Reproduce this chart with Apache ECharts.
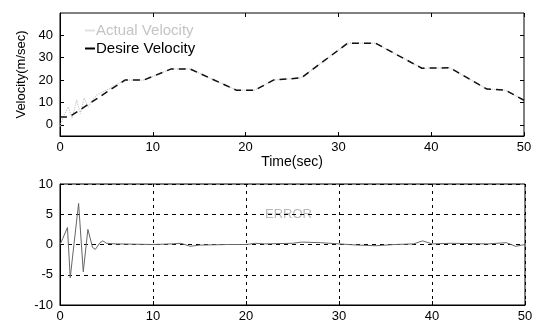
<!DOCTYPE html>
<html>
<head>
<meta charset="utf-8">
<script src="https://cdn.jsdelivr.net/npm/echarts@6/dist/echarts.min.js"></script>
<style>
  html, body { margin: 0; padding: 0; background: #fff; }
  #m1 { width: 537px; height: 323px; }
</style>
</head>
<body>
<div id="m1"></div>
<script>
// 期望速度 (时间, 速度)
var desireTime = [0, 1, 7, 9, 12, 14, 19, 21, 23, 26, 31, 34, 39, 42, 46, 48, 50];
var desireVel  = [3.5, 3.5, 20, 20, 25, 25, 15.5, 15.5, 20, 21, 36.5, 36.5, 25.3, 25.5, 16, 15.5, 11];

// 实际速度
var actualTime = [0, 0.4, 0.9, 1.3, 1.8, 2.2, 2.6, 3.0, 3.5, 4.0, 5, 7, 9, 12, 14, 19, 21, 23, 26, 31, 34, 39, 42, 46, 48, 50];
var actualVel  = [-0.7, 4, 8, 3, 11, 5, 12, 8, 11, 13.5, 15.5, 20, 20, 25, 25, 15.5, 15.5, 20, 21, 36.5, 36.5, 25.3, 25.5, 16, 15.5, 11];

// 误差
var errTime = [0, 0.3, 0.8, 1.1, 1.5, 2.0, 2.5, 3.0, 3.5, 3.8, 4.3, 4.6, 5, 6, 8, 10, 12, 13, 14, 15, 18, 20, 21, 22, 25, 26, 28, 30, 32, 34, 36, 38, 39, 40, 42, 46, 48, 49, 50];
var errVal  = [0, 1, 2.8, -5.5, 0, 6.8, -4.5, 2.5, -0.5, -0.8, 0.3, 0.6, 0.2, 0.1, 0.05, 0, 0.1, 0.2, -0.3, -0.1, 0, 0, 0.2, 0.1, 0.2, 0.4, 0.3, 0.1, -0.1, -0.2, 0, 0.1, 0.6, 0.1, 0.2, 0.1, 0.3, -0.3, 0];

var topTicks = [0, 10, 20, 30, 40];

function pairs(xs, ys){
    var out = [];
    for (var i = 0; i < xs.length; i++) out.push([xs[i], ys[i]]);
    return out;
}

var font = 'Liberation Sans, Arial, sans-serif';
var myChart = echarts.init(document.getElementById('m1'));

var option = {
    animation: false,
    backgroundColor: '#fff',
    textStyle: { fontFamily: font },
    grid: [
        { left: 60, right: 13, top: 13, height: 123, show: true, borderColor: '#000', borderWidth: 1 },
        { left: 60, right: 12, top: 184, height: 122, show: true, borderColor: '#000', borderWidth: 1 }
    ],
    legend: {
        orient: 'vertical',
        left: 80,
        top: 18,
        itemGap: 3,
        itemWidth: 10,
        itemHeight: 2,
        textStyle: { fontSize: 15, fontFamily: font, color: '#000', padding: [0, 0, 0, -4] },
        data: [
            { name: 'Actual Velocity', icon: 'rect', itemStyle: { color: '#e0e0e0' }, textStyle: { color: '#c4c4c4' } },
            { name: 'Desire Velocity', icon: 'rect', itemStyle: { color: '#000' } }
        ]
    },
    graphic: [{
        type: 'text',
        left: 265,
        top: 208,
        style: { text: 'ERROR', fill: '#b8b8b8', fontSize: 13, fontFamily: font }
    }],
    xAxis: [
        {
            gridIndex: 0, type: 'value', min: 0, max: 50, interval: 10,
            name: 'Time(sec)', nameLocation: 'middle', nameGap: 17,
            nameTextStyle: { fontSize: 14, color: '#000', fontFamily: font },
            axisLine: { onZero: false, lineStyle: { color: '#000' } },
            axisTick: { inside: true, length: 4, lineStyle: { color: '#000' } },
            axisLabel: { fontSize: 13, color: '#000', margin: 5, fontFamily: font },
            splitLine: { show: false }
        },
        {
            gridIndex: 0, type: 'value', min: 0, max: 50, interval: 10, position: 'top',
            axisLine: { show: false, onZero: false },
            axisTick: { inside: true, length: 4, lineStyle: { color: '#000' } },
            axisLabel: { show: false },
            splitLine: { show: false }
        },
        {
            gridIndex: 1, type: 'value', min: 0, max: 50, interval: 10,
            axisLine: { onZero: false, lineStyle: { color: '#000' } },
            axisTick: { inside: true, length: 4, lineStyle: { color: '#000' } },
            axisLabel: { fontSize: 13, color: '#000', margin: 5, fontFamily: font },
            splitLine: { show: true, lineStyle: { color: '#000', type: [3, 4], width: 1 } }
        }
    ],
    yAxis: [
        {
            gridIndex: 0, type: 'value', min: -5, max: 50,
            name: 'Velocity(m/sec)', nameLocation: 'middle', nameGap: 27,
            nameTextStyle: { fontSize: 13, color: '#000', fontFamily: font },
            axisLine: { onZero: false, lineStyle: { color: '#000' } },
            axisTick: { inside: true, length: 4, customValues: topTicks, lineStyle: { color: '#000' } },
            axisLabel: { fontSize: 13, color: '#000', margin: 7, customValues: topTicks, fontFamily: font },
            splitLine: { show: false }
        },
        {
            gridIndex: 0, type: 'value', min: -5, max: 50, position: 'right',
            axisLine: { show: false, onZero: false },
            axisTick: { inside: true, length: 4, customValues: topTicks, lineStyle: { color: '#000' } },
            axisLabel: { show: false },
            splitLine: { show: false }
        },
        {
            gridIndex: 1, type: 'value', min: -10, max: 10, interval: 5,
            axisLine: { onZero: false, lineStyle: { color: '#000' } },
            axisTick: { show: false },
            axisLabel: { fontSize: 13, color: '#000', margin: 7, fontFamily: font },
            splitLine: { show: true, lineStyle: { color: '#000', type: [4, 4], width: 1 } }
        }
    ],
    series: [
        {
            name: 'Actual Velocity', type: 'line', xAxisIndex: 0, yAxisIndex: 0,
            data: pairs(actualTime, actualVel), showSymbol: false,
            lineStyle: { color: '#c8c8c8', width: 1.2, type: 'dotted' }, itemStyle: { color: '#c8c8c8' }, z: 2
        },
        {
            name: 'Desire Velocity', type: 'line', xAxisIndex: 0, yAxisIndex: 0,
            data: pairs(desireTime, desireVel), showSymbol: false,
            lineStyle: { color: '#111', width: 1.5, type: [7, 5] }, itemStyle: { color: '#000' }, z: 3
        },
        {
            name: 'Error', type: 'line', xAxisIndex: 2, yAxisIndex: 2,
            data: pairs(errTime, errVal), showSymbol: false,
            lineStyle: { color: '#666', width: 1 }, z: 3
        }
    ]
};

myChart.setOption(option);
window.addEventListener('resize', () => {
    myChart.resize()
});
</script>
</body>
</html>
